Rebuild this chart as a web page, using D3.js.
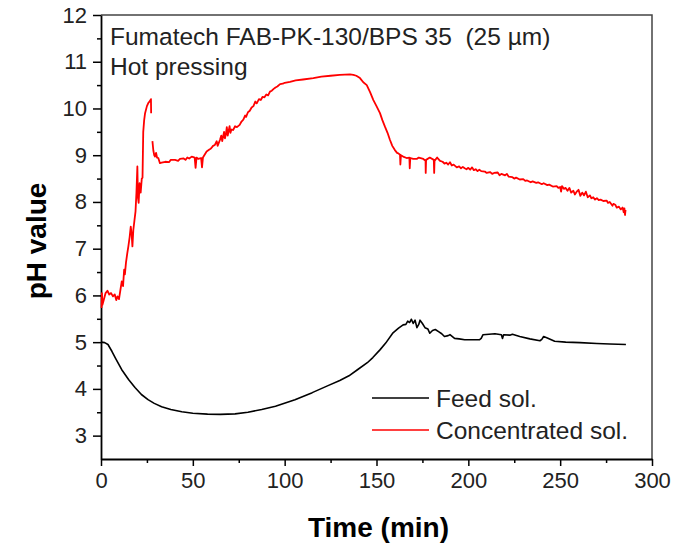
<!DOCTYPE html>
<html>
<head>
<meta charset="utf-8">
<script src="https://cdn.jsdelivr.net/npm/d3@7"></script>
<style>
  html, body { margin: 0; padding: 0; background: #fff; }
  svg { display: block; }
  text { font-family: "Liberation Sans", Arial, sans-serif; }
</style>
</head>
<body>
<svg id="chart" width="698" height="547"></svg>
<script>
// ---- Data ----
const xTicks = [0, 50, 100, 150, 200, 250, 300];
const yTicks = [3, 4, 5, 6, 7, 8, 9, 10, 11, 12];

const feedTime = [0, 2, 3.8, 6, 8, 11.3, 15, 18.5, 22, 25.6, 29, 33, 38, 44, 50, 58, 65, 73, 80, 87.5, 95, 105.6, 115, 123.6, 130, 135, 140, 145, 148, 152, 155, 159, 162, 164.5, 166, 167, 168, 169, 170, 171, 172, 173, 173.7, 175, 176.4, 178, 179, 180.5, 182, 184, 185.5, 187, 189, 190, 192.5, 195, 198, 203.6, 206, 207, 208, 214.5, 218, 218.6, 219.2, 222.6, 224, 228, 233.5, 239, 240, 241, 243, 247, 253, 260.8, 270, 277, 285.8];
const feedPH = [5.0, 4.99, 4.95, 4.8, 4.65, 4.41, 4.2, 4.03, 3.88, 3.77, 3.69, 3.62, 3.56, 3.51, 3.48, 3.46, 3.455, 3.465, 3.5, 3.56, 3.63, 3.77, 3.92, 4.07, 4.18, 4.28, 4.42, 4.56, 4.67, 4.84, 4.98, 5.2, 5.3, 5.37, 5.38, 5.45, 5.42, 5.49, 5.4, 5.47, 5.31, 5.38, 5.47, 5.4, 5.31, 5.28, 5.19, 5.25, 5.27, 5.22, 5.18, 5.12, 5.14, 5.16, 5.08, 5.07, 5.05, 5.05, 5.05, 5.08, 5.16, 5.18, 5.16, 5.08, 5.16, 5.15, 5.17, 5.12, 5.07, 5.03, 5.06, 5.12, 5.09, 5.02, 5.0, 4.99, 4.97, 4.96, 4.95];

// Concentrated solution, read in pieces; null marks the break in the trace
const concTime = [].concat(
  [0.3, 0.5, 0.8, 1.5, 2.5, 3.5, 4.5, 5.5, 6.5, 7.5, 8.3, 9, 9.8, 10.5, 11.3, 12, 12.6, 13, 13.6, 14.3],
  [14.9, 15.6, 16.2, 16.7, 17.1, 17.6, 18.2, 18.8, 19.3, 19.8, 20.1, 20.5, 21, 21.6, 22.2, 22.6, 23, 23.5, 24, 25],
  [25.8, 26.5, 27.2, 27.3, 27.6],
  [28, 28.5, 29, 29.4, 30, 30.5, 31.2, 32.1, 33, 35, 37, 38, 40.3, 42, 43, 45, 46, 47, 48, 49.4],
  [50.3, 51, 51.5, 52, 53, 54.5, 55, 55.5, 57.5, 59, 60, 61, 62, 63, 63.5, 64.8, 65.5, 66, 67, 67.5],
  [68, 68.5, 69, 70, 70.5, 71, 72, 73, 74, 75.5, 76.5, 77.5, 78.5, 79, 80, 81, 82, 83, 84, 84.8],
  [86, 87, 88, 89, 90, 91, 92, 93, 94, 95, 96, 97.5, 99, 100, 102.9, 106, 110, 115.6, 120, 125],
  [130, 135.6, 137.4, 139, 141, 142.8, 144.7, 146.5, 148.3, 150, 151.9, 153.2, 154.6, 156, 157.3, 158.6, 160, 161.2, 161.9, 162.8],
  [163, 163.3, 164.5, 166.4, 167.9, 168.1, 168.4, 170, 171.9, 173, 175.5, 176.7, 176.8, 177, 179, 181.2, 181.4, 181.6, 183, 184.6],
  [186, 187, 188, 189, 190, 191, 192, 193.7, 195, 196, 197, 198, 199, 200, 201, 202, 203, 204, 205, 206],
  [207, 209, 210, 211.8, 213, 214, 216, 217, 218, 220, 221, 222, 224, 225, 226, 228, 229.9, 231, 232, 234],
  [235, 237, 238, 240, 241, 243, 244, 246, 248.1, 249, 250, 250.5, 251, 252, 253, 254, 255, 256, 257.2, 258],
  [259, 260, 261, 262, 263, 264, 265, 266.2, 267, 268, 269, 270, 271, 272, 273.5, 275.3, 276, 277, 278.5, 279],
  [280, 280.8, 282, 283, 284, 284.6, 285, 285.3, 285.6]
);
const concPH = [].concat(
  [5.73, 6.05, 5.8, 5.9, 6.05, 6.1, 6.02, 6.05, 5.98, 6.02, 5.9, 5.98, 5.92, 6.1, 6.3, 6.2, 6.55, 6.45, 6.7, 6.9],
  [7.05, 7.25, 7.47, 7.3, 7.05, 7.4, 7.6, 7.8, 8.2, 8.76, 8.1, 7.98, 8.4, 8.2, 8.5, 8.52, 9.5, 9.75, 9.9, 10.05],
  [10.12, 10.15, 10.2, 9.9, null],
  [9.3, 9.1, 9.0, 8.97, 9.05, 8.95, 8.94, 8.83, 8.84, 8.86, 8.85, 8.9, 8.9, 8.88, 8.92, 8.93, 8.9, 8.95, 8.93, 8.97],
  [8.96, 8.95, 8.73, 8.95, 8.92, 8.94, 8.74, 8.95, 9.08, 9.12, 9.15, 9.2, 9.22, 9.3, 9.2, 9.33, 9.42, 9.3, 9.5, 9.36],
  [9.45, 9.6, 9.42, 9.62, 9.48, 9.55, 9.54, 9.62, 9.6, 9.65, 9.72, 9.76, 9.85, 9.82, 9.92, 9.95, 10.02, 10.05, 10.15, 10.11],
  [10.2, 10.18, 10.25, 10.24, 10.3, 10.28, 10.36, 10.38, 10.42, 10.45, 10.47, 10.52, 10.53, 10.55, 10.57, 10.6, 10.62, 10.65, 10.68, 10.7],
  [10.72, 10.73, 10.72, 10.7, 10.65, 10.56, 10.5, 10.35, 10.18, 10.05, 9.9, 9.75, 9.61, 9.48, 9.33, 9.2, 9.11, 9.05, 9.04, 9.01],
  [8.8, 9.0, 8.97, 8.94, 8.95, 8.72, 8.94, 8.92, 8.92, 8.95, 8.92, 8.88, 8.62, 8.9, 8.95, 8.9, 8.62, 8.88, 8.95, 8.88],
  [8.86, 8.82, 8.84, 8.8, 8.85, 8.78, 8.8, 8.74, 8.76, 8.72, 8.75, 8.72, 8.7, 8.73, 8.69, 8.74, 8.68, 8.7, 8.66, 8.69],
  [8.66, 8.65, 8.62, 8.64, 8.6, 8.62, 8.63, 8.57, 8.6, 8.57, 8.6, 8.54, 8.53, 8.5, 8.52, 8.48, 8.49, 8.45, 8.46, 8.42],
  [8.44, 8.41, 8.42, 8.38, 8.4, 8.36, 8.37, 8.33, 8.34, 8.3, 8.32, 8.22, 8.34, 8.28, 8.3, 8.24, 8.3, 8.2, 8.24, 8.16],
  [8.22, 8.26, 8.13, 8.2, 8.14, 8.22, 8.1, 8.14, 8.08, 8.1, 8.05, 8.08, 8.04, 8.05, 8.02, 8.03, 7.98, 8.0, 7.92, 7.96],
  [7.94, 7.88, 7.9, 7.84, 7.88, 7.78, 7.86, 7.72, 7.83]
);

const seriesNames = ["Feed sol.", "Concentrated sol."];
const seriesColors = ["#000000", "#ff0000"];
const titleLines = ["Fumatech FAB-PK-130/BPS 35  (25 \u00b5m)", "Hot pressing"];

// ---- Layout ----
const margin = { left: 101, top: 15, right: 46, bottom: 88 };
const W = 698, H = 547;
const pw = W - margin.left - margin.right;   // 551
const ph = H - margin.top - margin.bottom;   // 444

const svg = d3.select("#chart");
const g = svg.append("g").attr("transform", `translate(${margin.left},${margin.top})`);

const x = d3.scaleLinear().domain([0, 300]).range([0, pw]);
const y = d3.scaleLinear().domain([2.5, 12]).range([ph, 0]);

// frame (top/right)
g.append("path")
  .attr("d", `M0,0H${pw}V${ph}`)
  .attr("fill", "none").attr("stroke", "#444").attr("stroke-width", 1.5);

const xMinor = d3.range(25, 300, 50);
const yMinor = d3.range(3.5, 12, 1);

g.append("g").attr("transform", `translate(0,${ph})`)
  .call(d3.axisBottom(x).tickValues(xTicks).tickSize(7).tickSizeOuter(0).tickPadding(6).tickFormat(d3.format("d")));
g.append("g").attr("transform", `translate(0,${ph})`)
  .call(d3.axisBottom(x).tickValues(xMinor).tickSize(4).tickSizeOuter(0).tickFormat(""))
  .select(".domain").remove();

g.append("g")
  .call(d3.axisLeft(y).tickValues(yTicks).tickSize(8).tickSizeOuter(0).tickPadding(6).tickFormat(d3.format("d")));
g.append("g")
  .call(d3.axisLeft(y).tickValues(yMinor).tickSize(4).tickSizeOuter(0).tickFormat(""))
  .select(".domain").remove();

svg.selectAll(".tick line").attr("stroke", "#000").attr("stroke-width", 1.5);
svg.selectAll(".domain").attr("stroke", "#000").attr("stroke-width", 1.8);
svg.selectAll(".tick text")
  .attr("font-family", "Liberation Sans, Arial, sans-serif")
  .attr("font-size", 22).attr("fill", "#222");

// lines
const line = d3.line()
  .defined(d => d[1] !== null)
  .x(d => x(d[0])).y(d => y(d[1]));

const feedData = feedTime.map((t, i) => [t, feedPH[i]]);
const concData = concTime.map((t, i) => [t, concPH[i]]);

g.append("path").datum(concData)
  .attr("d", line).attr("fill", "none")
  .attr("stroke", seriesColors[1]).attr("stroke-width", 1.8).attr("stroke-linejoin", "round");
g.append("path").datum(feedData)
  .attr("d", line).attr("fill", "none")
  .attr("stroke", seriesColors[0]).attr("stroke-width", 1.6).attr("stroke-linejoin", "round");

// annotation
g.selectAll(".ann").data(titleLines).enter().append("text")
  .attr("x", 9).attr("y", (d, i) => 30 + i * 30)
  .attr("font-size", 24.5).attr("fill", "#222")
  .style("white-space", "pre")
  .text(d => d);

// legend
const leg = g.append("g");
seriesNames.forEach((name, i) => {
  const ly = 383 + i * 32;
  leg.append("line").attr("x1", 271).attr("x2", 328).attr("y1", ly).attr("y2", ly)
    .attr("stroke", seriesColors[i]).attr("stroke-width", 1.6);
  leg.append("text").attr("x", 335).attr("y", ly + 8.5)
    .attr("font-size", 24.5).attr("fill", "#222").text(name);
});

// axis titles
svg.append("text")
  .attr("x", margin.left + pw / 2 + 2).attr("y", 537)
  .attr("text-anchor", "middle").attr("font-weight", "bold").attr("font-size", 28)
  .text("Time (min)");
svg.append("text")
  .attr("transform", `translate(46,${margin.top + ph / 2 + 4}) rotate(-90)`)
  .attr("text-anchor", "middle").attr("font-weight", "bold").attr("font-size", 28)
  .text("pH value");
</script>
</body>
</html>
